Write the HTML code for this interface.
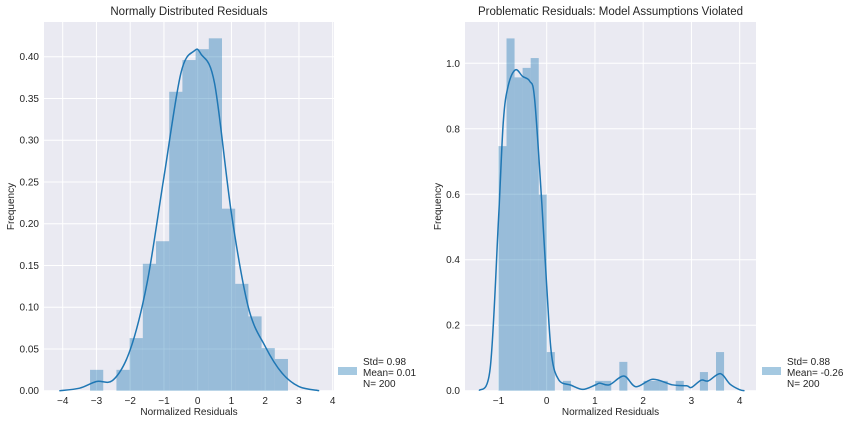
<!DOCTYPE html>
<html><head><meta charset="utf-8"><style>
body{margin:0;background:#fff;}
svg text{font-family:"Liberation Sans",Arial,sans-serif;fill:#262626;}
</style></head><body>
<svg id="c" width="856" height="424" viewBox="0 0 856 424"></svg>
<script>
// Left chart data
const leftBinStart = -3.19;
const leftBinWidth = 0.391;
const leftBins = [0.025,0,0.025,0.063,0.152,0.179,0.358,0.396,0.409,0.422,0.218,0.128,0.089,0.051,0.038];
const leftKdeX = [-4.1,-3.5,-3,-2.5,-2,-1.5,-1,-0.5,-0.1,0.1,0.5,1,1.5,2,2.5,3,3.6];
const leftKdeY = [0,0.003,0.011,0.013,0.049,0.129,0.256,0.38,0.407,0.403,0.368,0.212,0.10,0.053,0.021,0.005,0];
const leftXTicks = [-4,-3,-2,-1,0,1,2,3,4];
const leftYTicks = [0,0.05,0.1,0.15,0.2,0.25,0.3,0.35,0.4];
const leftLegend = ["Std= 0.98","Mean= 0.01","N= 200"];
// Right chart data
const rightBinStart = -1.0;
const rightBinWidth = 0.167;
const rightBins = [0.747,1.076,0.957,0.986,1.016,0.599,0.118,0,0.03,0,0,0,0.03,0.03,0,0.088,0,0,0.03,0.03,0.03,0,0.03,0,0,0.057,0,0.118];
const rightKdeX = [-1.4,-1.17,-1.0,-0.9,-0.8,-0.65,-0.5,-0.35,-0.25,-0.1,0,0.1,0.25,0.5,0.75,1.0,1.1,1.3,1.6,1.85,2.2,2.6,2.9,3.0,3.2,3.35,3.6,3.8,4.0,4.1];
const rightKdeY = [0,0.07,0.52,0.82,0.93,0.98,0.96,0.945,0.89,0.57,0.32,0.11,0.033,0.017,0.004,0.017,0.023,0.018,0.045,0.012,0.035,0.018,0.015,0.01,0.032,0.03,0.052,0.02,0.003,0];
const rightXTicks = [-1,0,1,2,3,4];
const rightYTicks = [0,0.2,0.4,0.6,0.8,1.0];
const rightLegend = ["Std= 0.88","Mean= -0.26","N= 200"];

const NS="http://www.w3.org/2000/svg";
const svg=document.getElementById('c');
function mk(tag,attrs,parent){const e=document.createElementNS(NS,tag);for(const k in attrs)e.setAttribute(k,attrs[k]);(parent||svg).appendChild(e);return e;}
function smooth(pts){let d="M"+pts[0][0]+","+pts[0][1];for(let i=0;i<pts.length-1;i++){const p0=pts[i-1]||pts[i],p1=pts[i],p2=pts[i+1],p3=pts[i+2]||p2;const c1x=p1[0]+(p2[0]-p0[0])/6,c1y=p1[1]+(p2[1]-p0[1])/6,c2x=p2[0]-(p3[0]-p1[0])/6,c2y=p2[1]-(p3[1]-p1[1])/6;d+=" C"+c1x+","+c1y+" "+c2x+","+c2y+" "+p2[0]+","+p2[1];}return d;}

function chart(o){
  const g=mk('g',{});
  
  
  const sx=v=>o.x0px+(v-o.x0v)*o.xs, sy=v=>o.y0px-v*o.ys;
  const bg=mk('rect',{x:o.l,y:o.t,width:o.r-o.l,height:o.b-o.t,fill:'#eaeaf2'},g);
  
  o.xt.forEach(v=>{const x=sx(v);
    const ln=mk('line',{x1:x,x2:x,y1:o.t,y2:o.b,stroke:'#fff','stroke-width':1},g);
    
    const t=mk('text',{x:x,y:o.b+13,'font-size':10,'text-anchor':'middle'},g);t.textContent=(v<0?'\u2212'+(-v):v);
    });
  o.yt.forEach(v=>{const y=sy(v);
    const ln=mk('line',{x1:o.l,x2:o.r,y1:y,y2:y,stroke:'#fff','stroke-width':1},g);
    
    const t=mk('text',{x:o.l-5,y:y+3.5,'font-size':10,'text-anchor':'end'},g);t.textContent=v.toFixed(o.yd);
    });
  o.bins.forEach((h,i)=>{if(h<=0)return;const x1=sx(o.bs+i*o.bw),x2=sx(o.bs+(i+1)*o.bw);
    const r=mk('rect',{x:x1,y:sy(h),width:x2-x1,height:sy(0)-sy(h),fill:'#1f77b4','fill-opacity':0.4},g);
    });
  const pts=o.kx.map((v,i)=>[sx(v),sy(o.ky[i])]);
  const p=mk('path',{d:smooth(pts),fill:'none',stroke:'#1f77b4','stroke-width':1.5},g);
  
  const tt=mk('text',{x:(o.l+o.r)/2,y:15,'font-size':11.5,'text-anchor':'middle'},g);tt.textContent=o.title;
  
  const xl=mk('text',{x:(o.l+o.r)/2,y:415,'font-size':10,'text-anchor':'middle'},g);xl.textContent='Normalized Residuals';
  
  const yl=mk('text',{x:0,y:0,'font-size':10,'text-anchor':'middle',transform:'translate('+o.ylx+','+((o.t+o.b)/2)+') rotate(-90)'},g);yl.textContent='Frequency';
  
  const lp=mk('rect',{x:o.lgx,y:367,width:19,height:8,fill:'#1f77b4','fill-opacity':0.4},g);
  
  o.leg.forEach((s,i)=>{const t=mk('text',{x:o.lgx+25,y:365+i*11,'font-size':10},g);t.textContent=s;
    });
}
chart({name:'left-chart',l:44,r:334,t:22,b:391,x0v:0,x0px:197.7,xs:33.75,y0px:390.7,ys:835,yd:2,
  xt:leftXTicks,yt:leftYTicks,bins:leftBins,bs:leftBinStart,bw:leftBinWidth,kx:leftKdeX,ky:leftKdeY,
  title:'Normally Distributed Residuals',ylx:14,lgx:338,leg:leftLegend});
chart({name:'right-chart',l:465,r:756,t:22,b:391,x0v:0,x0px:546.7,xs:48.25,y0px:390.7,ys:327.4,yd:1,
  xt:rightXTicks,yt:rightYTicks,bins:rightBins,bs:rightBinStart,bw:rightBinWidth,kx:rightKdeX,ky:rightKdeY,
  title:'Problematic Residuals: Model Assumptions Violated',ylx:441,lgx:762,leg:rightLegend});
</script>
</body></html>
